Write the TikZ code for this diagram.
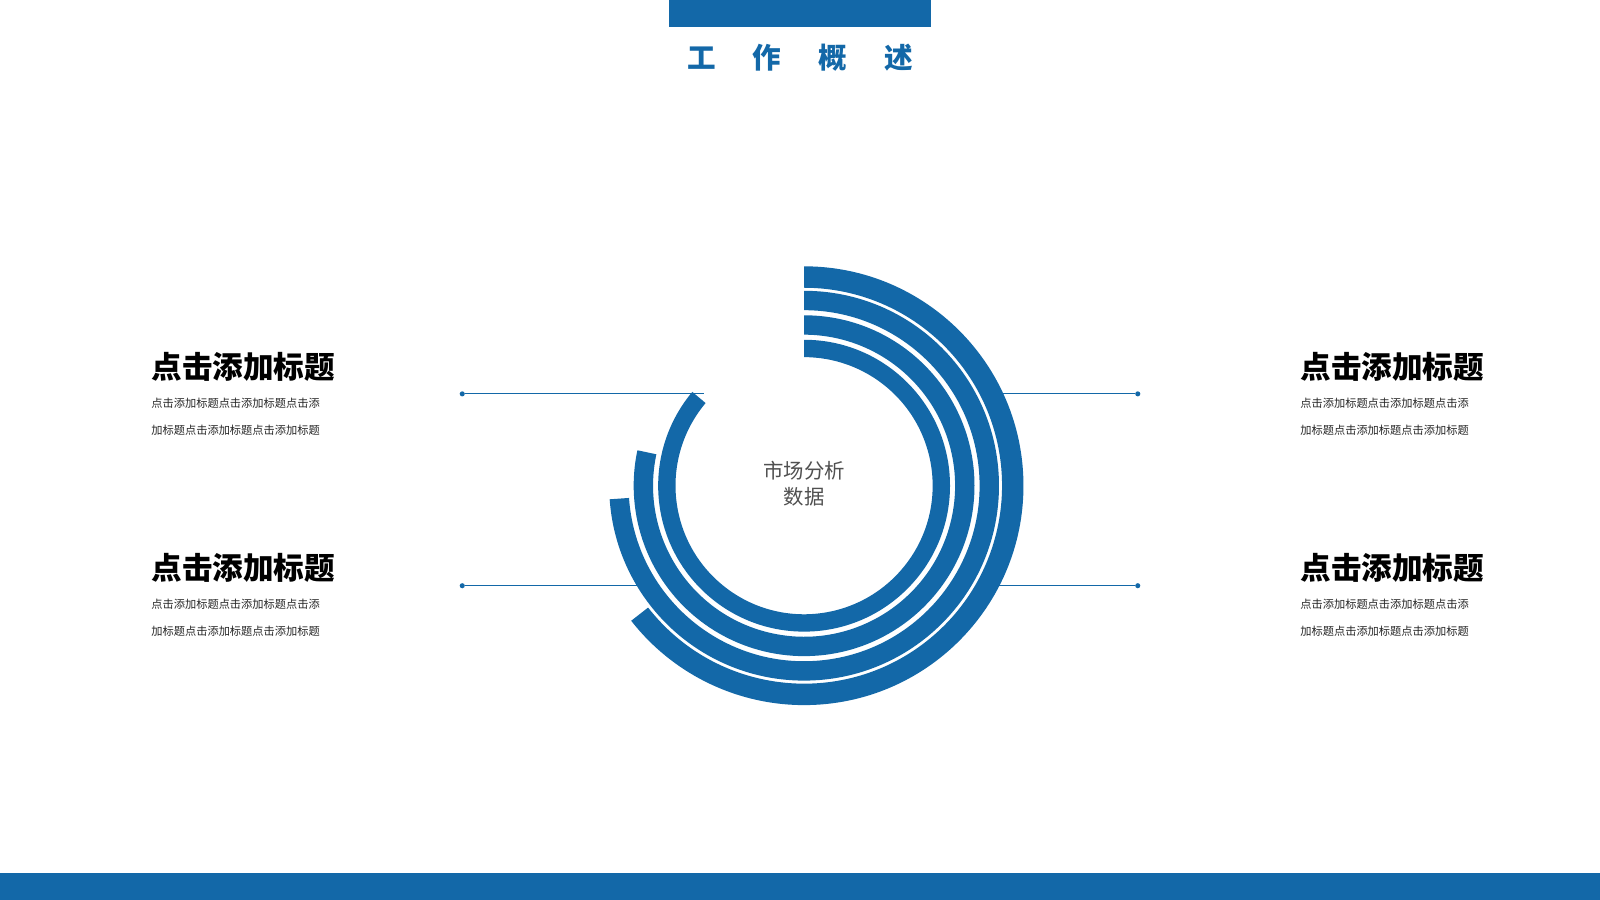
\documentclass[tikz,border=0pt]{standalone}
\usepackage{fontspec}
\setmainfont{Noto Sans CJK SC}
\definecolor{myblue}{RGB}{19, 104, 168}
\definecolor{mygray}{RGB}{80, 80, 80}
\tikzset{every picture/.style={line width=0.75pt}}
\tikzset{
  head/.style={anchor=west, font=\fontsize{30}{34}\selectfont\bfseries, inner sep=0pt},
  body/.style={anchor=north west, font=\fontsize{11}{26}\selectfont, align=left, inner sep=0pt, text=black!85},
  dot/.style={circle, fill=myblue, inner sep=0pt, minimum size=5pt},
  lead/.style={myblue, line width=0.8pt}
}
\newcommand{\ringband}[3]{% inner radius, outer radius, end angle
  \fill[myblue] (788,406) ++(90:#2) arc (90:#3:#2) -- ++(#3:-#2+#1) arc (#3:90:#1) -- cycle;
}
\begin{document}
\begin{tikzpicture}[x=1pt,y=1pt]
\useasboundingbox (0,0) rectangle (1568,882);
\fill[white] (0,0) rectangle (1568,882);

%Top and bottom bars
\fill[myblue] (656,856) rectangle (912,882);
\fill[myblue] (0,0) rectangle (1568,26);
\node[text=myblue, font=\fontsize{28}{32}\selectfont\bfseries] (title) at (784,825) {工\hspace{1.3em}作\hspace{1.3em}概\hspace{1.3em}述};

%Leader lines
\node[dot] (la) at (453,496) {};
\node[dot] (lb) at (453,308) {};
\node[dot] (ra) at (1115,496) {};
\node[dot] (rb) at (1115,308) {};
\coordinate (lae) at (690,496);
\coordinate (lbe) at (630,308);
\coordinate (rae) at (980,496);
\coordinate (rbe) at (970,308);
\draw[lead] (la) -- (lae);
\draw[lead] (lb) -- (lbe);
\draw[lead] (ra) -- (rae);
\draw[lead] (rb) -- (rbe);

%Rings
\ringband{194}{215}{-142}
\ringband{172}{191}{-176}
\ringband{148}{167}{-192}
\ringband{126}{143}{-220}
\node[text=mygray, font=\fontsize{20}{26}\selectfont, align=center] (core) at (788,408) {市场分析\\数据};

%Text blocks
\node[head] (h1) at (148,522) {点击添加标题};
\node[body] (b1) at (148,492) {点击添加标题点击添加标题点击添\\加标题点击添加标题点击添加标题};
\node[head] (h2) at (148,325) {点击添加标题};
\node[body] (b2) at (148,295) {点击添加标题点击添加标题点击添\\加标题点击添加标题点击添加标题};
\node[head] (h3) at (1274,522) {点击添加标题};
\node[body] (b3) at (1274,492) {点击添加标题点击添加标题点击添\\加标题点击添加标题点击添加标题};
\node[head] (h4) at (1274,325) {点击添加标题};
\node[body] (b4) at (1274,295) {点击添加标题点击添加标题点击添\\加标题点击添加标题点击添加标题};
\end{tikzpicture}
\end{document}
